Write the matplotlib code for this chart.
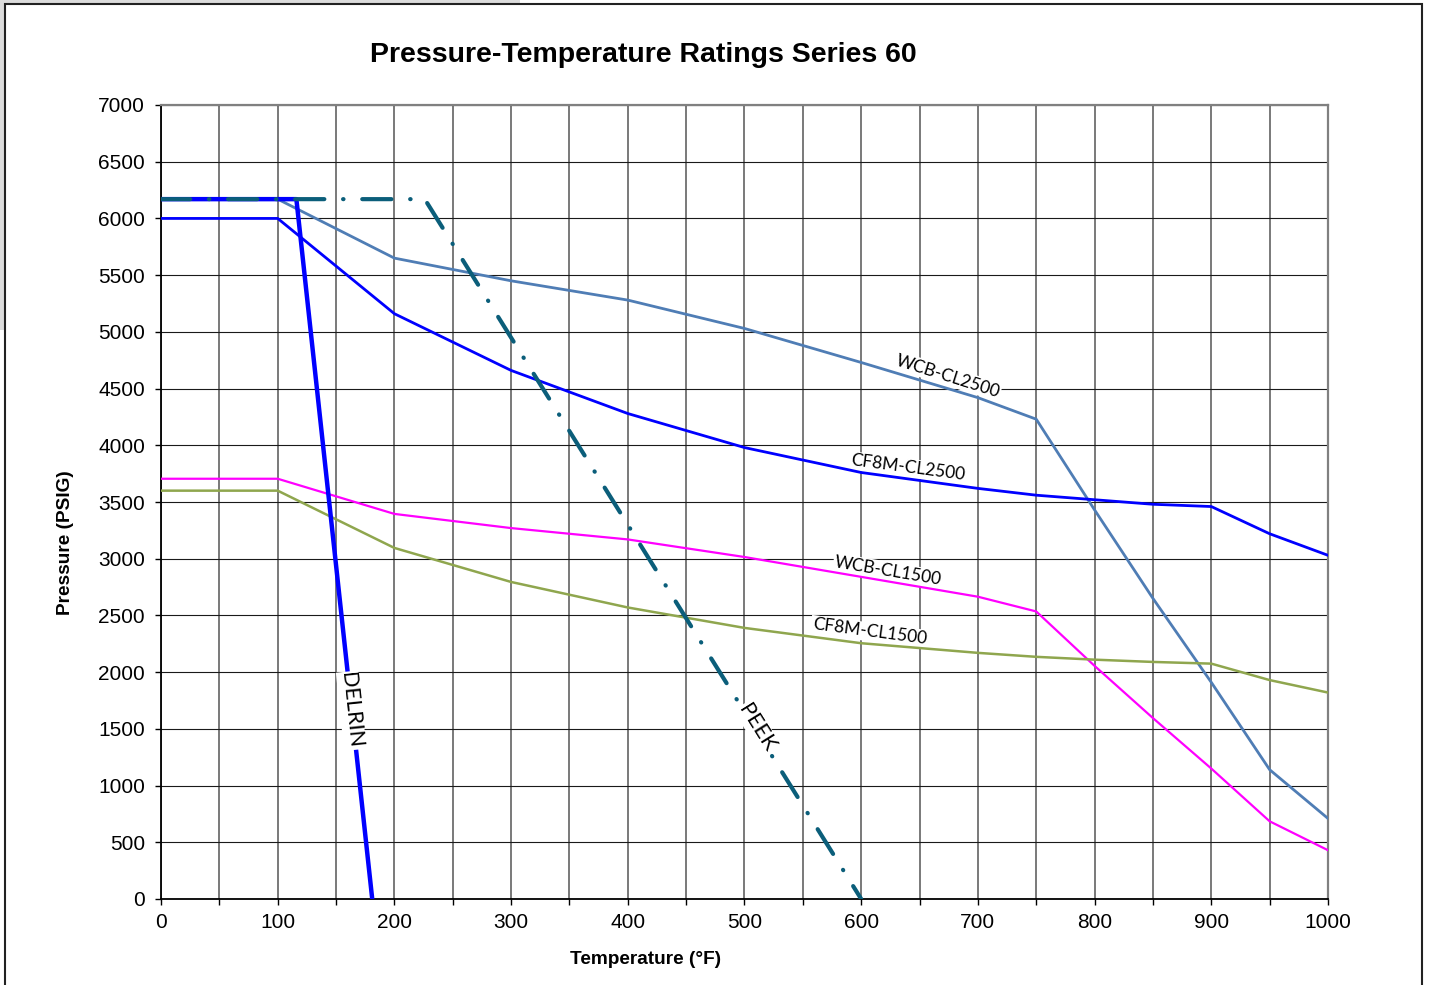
import numpy as np
import matplotlib
matplotlib.use("Agg")
import matplotlib.pyplot as plt
from matplotlib.patches import Rectangle, Polygon
from matplotlib.ticker import MultipleLocator

# ---------------------------------------------------------------------------
# Data
# ---------------------------------------------------------------------------
temps = [0, 100, 200, 300, 400, 500, 600, 700, 750, 800, 850, 900, 950, 1000]

wcb_cl2500 = [6170, 6170, 5650, 5450, 5280, 5030, 4730, 4420, 4230, 3430, 2650, 1910, 1140, 710]
cf8m_cl2500 = [6000, 6000, 5160, 4660, 4280, 3980, 3760, 3620, 3560, 3520, 3480, 3460, 3220, 3030]
wcb_cl1500 = [3705, 3705, 3395, 3270, 3170, 3015, 2840, 2665, 2535, 2055, 1595, 1150, 685, 430]
cf8m_cl1500 = [3600, 3600, 3095, 2795, 2570, 2390, 2255, 2170, 2135, 2110, 2090, 2075, 1930, 1820]

delrin_t = [0, 116, 181]
delrin_p = [6170, 6170, 0]

peek_t = [0, 226, 600]
peek_p = [6170, 6170, 0]

# label text, x, y, rotation, size, drawn over the line?
labels = [
    ("WCB-CL2500", 674, 4610, -17.5, 12.5, False),
    ("CF8M-CL2500", 640, 3800, -7.5, 12.5, False),
    ("WCB-CL1500", 623, 2890, -9.5, 12.5, False),
    ("CF8M-CL1500", 607, 2355, -7.5, 12.5, False),
    ("DELRIN", 163, 1660, -84, 15.5, True),
    ("PEEK", 511, 1510, -58, 15.5, True),
]

# ---------------------------------------------------------------------------
# Figure
# ---------------------------------------------------------------------------
W, H = 1429, 985
fig = plt.figure(figsize=(W / 100, H / 100), dpi=100)
fig.patch.set_facecolor("white")

# grey corner + outer frame
fig.patches.append(Polygon([[0, 1], [520 / W, 1], [520 / W, 1 - 4 / H], [5 / W, 1 - 4 / H],
                            [5 / W, 1 - 330 / H], [0, 1 - 330 / H]],
                           closed=True, transform=fig.transFigure, facecolor="#dcdcdc",
                           edgecolor="none", zorder=0))
fig.patches.append(Rectangle((5 / W, -0.01), (1422 - 5) / W, 1 - 4 / H + 0.01,
                             transform=fig.transFigure, facecolor="none",
                             edgecolor="#222222", linewidth=1.5, zorder=1))

ax = fig.add_axes([161 / W, 1 - 899 / H, (1328 - 161) / W, (899 - 105) / H])

ax.set_xlim(0, 1000)
ax.set_ylim(0, 7000)
ax.xaxis.set_major_locator(MultipleLocator(100))
ax.xaxis.set_minor_locator(MultipleLocator(50))
ax.yaxis.set_major_locator(MultipleLocator(500))

ax.grid(True, which="major", axis="y", color="#1a1a1a", linewidth=0.8, zorder=0)
ax.grid(True, which="both", axis="x", color="#555555", linewidth=1.1, zorder=0)
ax.set_axisbelow(True)

for side in ["left", "bottom"]:
    ax.spines[side].set_color("black")
    ax.spines[side].set_linewidth(1.3)
for side in ["top", "right"]:
    ax.spines[side].set_color("#808080")
    ax.spines[side].set_linewidth(1.6)

ax.tick_params(axis="both", which="both", direction="out", length=4.5, width=1.0,
               color="black", labelsize=15)
ax.tick_params(axis="x", which="major", pad=5.5)
ax.tick_params(axis="y", which="major", pad=7)
for lab in ax.get_xticklabels() + ax.get_yticklabels():
    lab.set_family("Liberation Sans")

# series
ax.plot(temps, wcb_cl2500, color="#4F7DB5", linewidth=2.0, zorder=4)
ax.plot(temps, cf8m_cl2500, color="#0000FF", linewidth=2.0, zorder=4)
ax.plot(temps, wcb_cl1500, color="#FF00FF", linewidth=1.6, zorder=4)
ax.plot(temps, cf8m_cl1500, color="#8FA64E", linewidth=1.8, zorder=4)
ax.plot(delrin_t, delrin_p, color="#0000FF", linewidth=3.2, zorder=5)
ax.plot(peek_t, peek_p, color="#0B5E7A", linewidth=3.0, zorder=6,
        dashes=(7, 4.5, 0.1, 4.5), dash_capstyle="round")

for txt, x, y, rot, fs, over in labels:
    ax.text(x, y, txt, rotation=rot, rotation_mode="anchor", ha="center", va="center",
            fontsize=fs, family="Lato", color="black", zorder=8 if over else 3,
            bbox=dict(facecolor="white", edgecolor="none", pad=1.0))

# titles
fig.text(643 / W, 1 - 55 / H, "Pressure-Temperature Ratings Series 60", ha="center",
         va="center", fontsize=20.5, fontweight="bold", family="Liberation Sans")
fig.text(646 / W, 1 - 959 / H, "Temperature (°F)", ha="center", va="center",
         fontsize=13.7, fontweight="bold", family="Liberation Sans")
fig.text(66 / W, 1 - 543 / H, "Pressure (PSIG)", ha="center", va="center", rotation=90,
         fontsize=13.7, fontweight="bold", family="Liberation Sans")

fig.savefig("out.png", dpi=100)
